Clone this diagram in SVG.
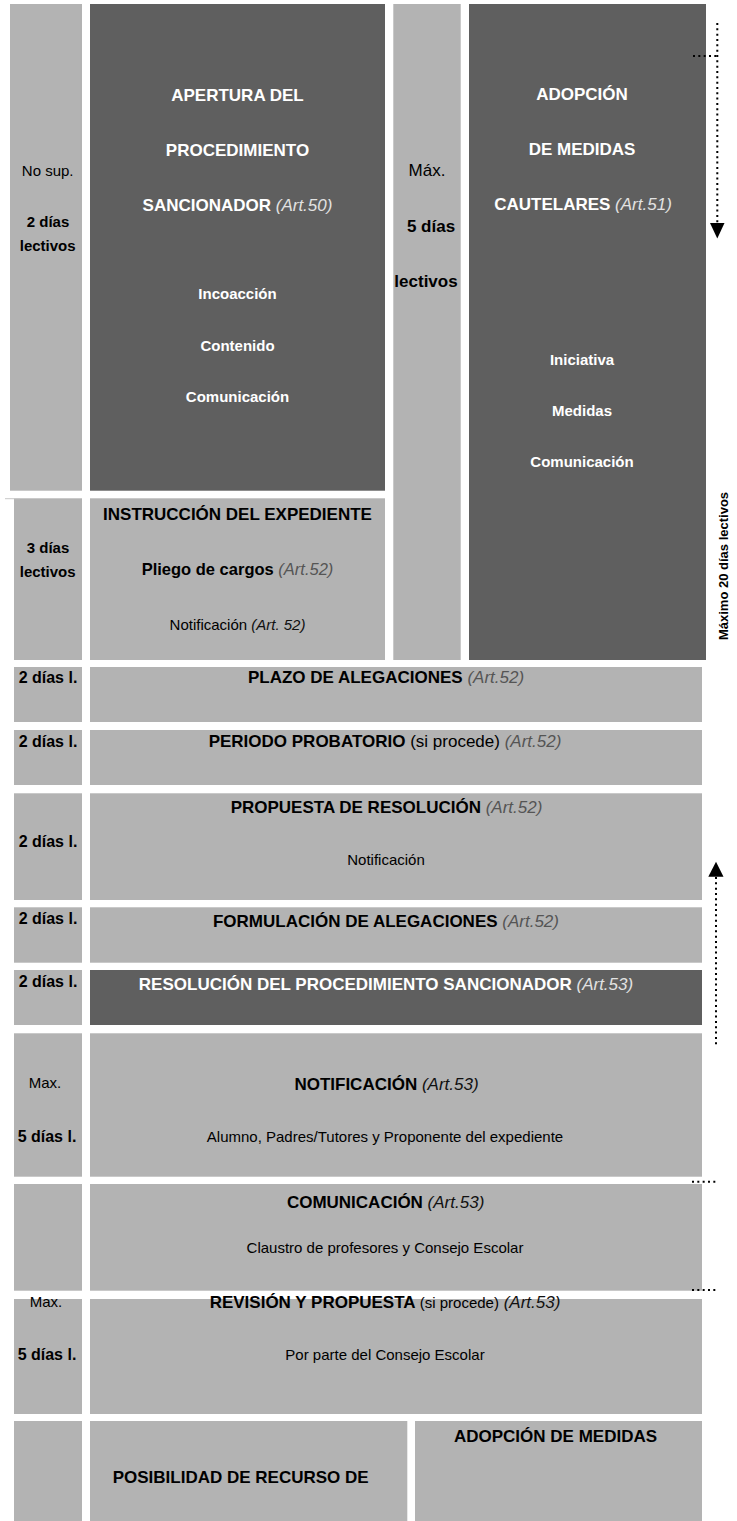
<svg xmlns="http://www.w3.org/2000/svg" width="737" height="1521" viewBox="0 0 737 1521">
<style>
text{font-family:"Liberation Sans",Arial,sans-serif;text-anchor:middle}
.lt{fill:#b3b3b3}
.dk{fill:#5f5f5f}
.t{font-size:17px;font-weight:bold;fill:#000}
.tw{font-size:17px;font-weight:bold;fill:#fff}
.sw{font-size:15px;font-weight:bold;fill:#fff}
.s{font-size:15px;fill:#000}
.sb{font-size:15px;font-weight:bold;fill:#000}
.d{font-size:16px;font-weight:bold;fill:#000}
.m{font-size:17px;fill:#000}
.mb{font-size:17px;font-weight:bold;fill:#000}
.ag{font-style:italic;font-weight:normal;fill:#555}
.ak{font-style:italic;font-weight:normal;fill:#111}
.aw{font-style:italic;font-weight:normal;fill:#e2e2e2}
.n{font-weight:normal}
.dot{fill:none;stroke:#000;stroke-width:2;stroke-dasharray:2 3.33}
</style>

<g id="col-top-left"><rect class="lt" x="10" y="4" width="72" height="486.7"/>
<text class="s" x="47.7" y="176">No sup.</text>
<text class="sb" x="48" y="227.3">2 días</text>
<text class="sb" x="47.7" y="250.7">lectivos</text></g>

<g id="apertura"><rect class="dk" x="90" y="4" width="295" height="486.7"/>
<text class="tw" x="237.5" y="100.7">APERTURA DEL</text>
<text class="tw" x="237.5" y="155.7">PROCEDIMIENTO</text>
<text class="tw" x="237.5" y="210.7">SANCIONADOR <tspan class="aw">(Art.50)</tspan></text>
<text class="sw" x="237.5" y="299">Incoacción</text>
<text class="sw" x="237.5" y="350.7">Contenido</text>
<text class="sw" x="237.5" y="401.7">Comunicación</text></g>

<g id="col-middle"><rect class="lt" x="393.3" y="4" width="67.4" height="656"/>
<text class="m" x="427" y="176">Máx.</text>
<text class="mb" x="431" y="231.7">5 días</text>
<text class="mb" x="426" y="286.7">lectivos</text></g>

<g id="adopcion-cautelares"><rect class="dk" x="469" y="4" width="237" height="656"/>
<text class="tw" x="582" y="100">ADOPCIÓN</text>
<text class="tw" x="582" y="155">DE MEDIDAS</text>
<text class="tw" x="583" y="210">CAUTELARES <tspan class="aw">(Art.51)</tspan></text>
<text class="sw" x="582" y="365">Iniciativa</text>
<text class="sw" x="582" y="416">Medidas</text>
<text class="sw" x="582" y="466.7">Comunicación</text></g>

<g id="col-3dias"><rect class="lt" x="14" y="498.3" width="68" height="161.7"/>
<text class="sb" x="48" y="553.3">3 días</text>
<text class="sb" x="47.7" y="577.3">lectivos</text></g>

<g id="instruccion"><rect class="lt" x="90" y="498.3" width="295" height="161.7"/>
<text class="t" x="237.5" y="520">INSTRUCCIÓN DEL EXPEDIENTE</text>
<text class="t" x="237.5" y="574.5" style="font-size:16.5px">Pliego de cargos <tspan class="ag">(Art.52)</tspan></text>
<text class="s" x="237.5" y="630">Notificación <tspan class="ak">(Art. 52)</tspan></text></g>

<g id="plazo"><rect class="lt" x="14" y="667" width="68" height="55"/><rect class="lt" x="90" y="667" width="612" height="55"/>
<text class="d" x="48" y="683.3">2 días l.</text>
<text class="t" x="386" y="682.7">PLAZO DE ALEGACIONES <tspan class="ag">(Art.52)</tspan></text></g>

<g id="periodo"><rect class="lt" x="14" y="730" width="68" height="55"/><rect class="lt" x="90" y="730" width="612" height="55"/>
<text class="d" x="48" y="746.5">2 días l.</text>
<text class="t" x="385" y="747.3">PERIODO PROBATORIO <tspan class="n">(si procede)</tspan> <tspan class="ag">(Art.52)</tspan></text></g>

<g id="propuesta"><rect class="lt" x="14" y="793.3" width="68" height="106.7"/><rect class="lt" x="90" y="793.3" width="612" height="106.7"/>
<text class="d" x="48" y="847.3">2 días l.</text>
<text class="t" x="386.5" y="813.3">PROPUESTA DE RESOLUCIÓN <tspan class="ag">(Art.52)</tspan></text>
<text class="s" x="386" y="865">Notificación</text></g>

<g id="formulacion"><rect class="lt" x="14" y="907.3" width="68" height="55.4"/><rect class="lt" x="90" y="907.3" width="612" height="55.4"/>
<text class="d" x="48" y="924">2 días l.</text>
<text class="t" x="386" y="927.3">FORMULACIÓN DE ALEGACIONES <tspan class="ag">(Art.52)</tspan></text></g>

<g id="resolucion"><rect class="lt" x="14" y="970" width="68" height="55"/><rect class="dk" x="90" y="970" width="612" height="55"/>
<text class="d" x="48" y="987.3">2 días l.</text>
<text class="tw" x="386" y="990">RESOLUCIÓN DEL PROCEDIMIENTO SANCIONADOR <tspan class="aw">(Art.53)</tspan></text></g>

<g id="notificacion"><rect class="lt" x="14" y="1033.3" width="68" height="143.4"/><rect class="lt" x="90" y="1033.3" width="612" height="143.4"/>
<text class="s" x="45" y="1088.3">Max.</text>
<text class="d" x="47" y="1141.7">5 días l.</text>
<text class="t" x="386.5" y="1090">NOTIFICACIÓN <tspan class="ak">(Art.53)</tspan></text>
<text class="s" x="385" y="1141.7">Alumno, Padres/Tutores y Proponente del expediente</text></g>

<g id="comunicacion"><rect class="lt" x="14" y="1184" width="68" height="106.7"/><rect class="lt" x="90" y="1184" width="612" height="106.7"/>
<text class="t" x="385.6" y="1208.3">COMUNICACIÓN <tspan class="ak">(Art.53)</tspan></text>
<text class="s" x="385" y="1253.3">Claustro de profesores y Consejo Escolar</text></g>

<g id="revision"><rect class="lt" x="14" y="1299" width="68" height="115"/><rect class="lt" x="90" y="1299" width="612" height="115"/>
<text class="s" x="46" y="1306.7">Max.</text>
<text class="d" x="47" y="1360">5 días l.</text>
<text class="t" x="385" y="1308.3">REVISIÓN Y PROPUESTA <tspan class="n" style="font-size:15px">(si procede)</tspan> <tspan class="ak">(Art.53)</tspan></text>
<text class="s" x="385" y="1360">Por parte del Consejo Escolar</text></g>

<g id="recurso"><rect class="lt" x="14" y="1421" width="68" height="100"/><rect class="lt" x="90" y="1421" width="317.3" height="100"/>
<text class="t" x="240.7" y="1483.3">POSIBILIDAD DE RECURSO DE</text></g>

<g id="adopcion-medidas"><rect class="lt" x="415" y="1421" width="287" height="100"/>
<text class="t" x="555.5" y="1441.7">ADOPCIÓN DE MEDIDAS</text></g>

<g id="plazo-maximo"><text class="t" style="font-size:13px" transform="translate(727.5,566) rotate(-90)">Máximo 20 días lectivos</text></g>

<g id="connectors">
<line x1="5" y1="498.7" x2="20" y2="498.7" stroke="#c8c8c8" stroke-width="1"/>
<path class="dot" d="M693 56H718"/>
<path class="dot" d="M717.3 23V224"/>
<path d="M710 223H724.5L717.3 238.5Z" fill="#000"/>
<path class="dot" d="M716 877V1046"/>
<path d="M708.3 876.7H723.5L716 861.7Z" fill="#000"/>
<path class="dot" d="M692 1181.7H718"/>
<path class="dot" d="M692 1290H718"/>
</g>
</svg>
